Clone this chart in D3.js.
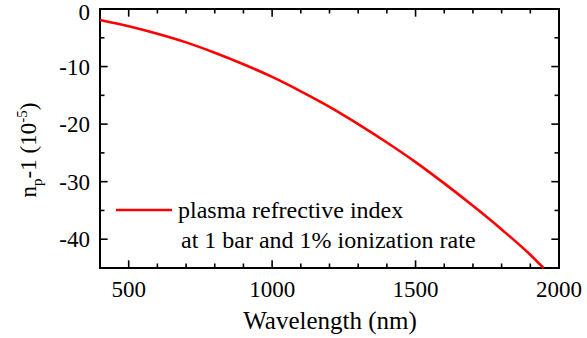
<!DOCTYPE html>
<html>
<head>
<meta charset="utf-8">
<script src="https://cdn.jsdelivr.net/npm/d3@7"></script>
<style>
  body { margin: 0; background: #fff; }
  svg text { font-family: "Times New Roman", Times, "Liberation Serif", "DejaVu Serif", serif; }
</style>
</head>
<body>
<svg id="chart" width="587" height="338"></svg>
<script>
"use strict";

// wavelength (nm) and n_p - 1 (1e-5)
var wavelength = [400, 500, 600, 700, 800, 900, 1000, 1100, 1200, 1300, 1400, 1500, 1600, 1700, 1800, 1900, 1946];
var indexValues = [-1.9, -3.0, -4.3, -5.8, -7.6, -9.6, -11.8, -14.3, -17.0, -20.0, -23.2, -26.6, -30.3, -34.2, -38.3, -42.7, -45.0];
var xTicks = [500, 1000, 1500, 2000];
var yTicks = [0, -10, -20, -30, -40];
var legendLines = ["plasma refrective index", "at 1 bar and 1% ionization rate"];

var margin = {left: 100, top: 9, right: 28, bottom: 70};
var W = 587, H = 338;
var svg = d3.select("#chart");

var x = d3.scaleLinear().domain([400, 2000]).range([margin.left, W - margin.right]);
var y = d3.scaleLinear().domain([-45, 0]).range([H - margin.bottom, margin.top]);

var g = svg.append("g");

// frame
g.append("rect")
	.attr("x", x(400)).attr("y", y(0))
	.attr("width", x(2000) - x(400))
	.attr("height", y(-45) - y(0))
	.attr("fill", "none")
	.attr("stroke", "#000")
	.attr("stroke-width", 2);

var minorX = d3.range(500, 2000, 100);
var minorY = d3.range(-45, 0, 5);

function tickLines(sel, values, len, isX) {
	values.forEach(function (v) {
		var major = isX ? (v % 500 === 0) : (v % 10 === 0);
		var l = major ? len * 1.7 : len;
		if (isX) {
			sel.append("line").attr("x1", x(v)).attr("x2", x(v)).attr("y1", y(-45)).attr("y2", y(-45) - l);
			sel.append("line").attr("x1", x(v)).attr("x2", x(v)).attr("y1", y(0)).attr("y2", y(0) + l);
		} else {
			sel.append("line").attr("y1", y(v)).attr("y2", y(v)).attr("x1", x(400)).attr("x2", x(400) + l);
			sel.append("line").attr("y1", y(v)).attr("y2", y(v)).attr("x1", x(2000)).attr("x2", x(2000) - l);
		}
	});
}
var ticks = g.append("g").attr("stroke", "#000").attr("stroke-width", 1.6);
tickLines(ticks, minorX, 4.5, true);
tickLines(ticks, minorY, 4.5, false);

// tick labels
g.selectAll(".xl").data(xTicks).enter().append("text")
	.attr("x", function (d) { return x(d); })
	.attr("y", H - margin.bottom + 29)
	.attr("text-anchor", "middle")
	.attr("font-size", "23px")
	.text(function (d) { return d; });

// top label pushed down a bit so it isn't clipped
g.selectAll(".yl").data(yTicks).enter().append("text")
	.attr("x", x(400) - 10)
	.attr("y", function (d) { return Math.max(y(d) + 8, 20); })
	.attr("text-anchor", "end")
	.attr("font-size", "23px")
	.text(function (d) { return d === 0 ? "0" : "-" + Math.abs(d); });

// axis titles
svg.append("text")
	.attr("x", 330)
	.attr("y", 329)
	.attr("text-anchor", "middle")
	.attr("font-size", "25px")
	.text("Wavelength (nm)");

var yt = svg.append("text")
	.attr("transform", "translate(36,150) rotate(-90)")
	.attr("text-anchor", "middle")
	.attr("font-size", "23px");
yt.append("tspan").text("n");
yt.append("tspan").attr("font-size", "15px").attr("dy", 6).text("p");
yt.append("tspan").attr("dy", -6).text("-1 (10");
yt.append("tspan").attr("font-size", "15px").attr("dy", -9).text("-5");
yt.append("tspan").attr("dy", 9).text(")");

// curve
var line = d3.line()
	.x(function (d, i) { return x(wavelength[i]); })
	.y(function (d) { return y(d); })
	.curve(d3.curveMonotoneX);

g.append("path")
	.datum(indexValues)
	.attr("d", line)
	.attr("fill", "none")
	.attr("stroke", "#ff0000")
	.attr("stroke-width", 2.6);

// legend
svg.append("line")
	.attr("x1", 116).attr("x2", 172)
	.attr("y1", 210).attr("y2", 210)
	.attr("stroke", "#ff0000")
	.attr("stroke-width", 2.6);

svg.append("text").attr("x", 178).attr("y", 218).attr("font-size", "24px").text(legendLines[0]);
svg.append("text").attr("x", 181).attr("y", 248).attr("font-size", "24px").text(legendLines[1]);
</script>
</body>
</html>
